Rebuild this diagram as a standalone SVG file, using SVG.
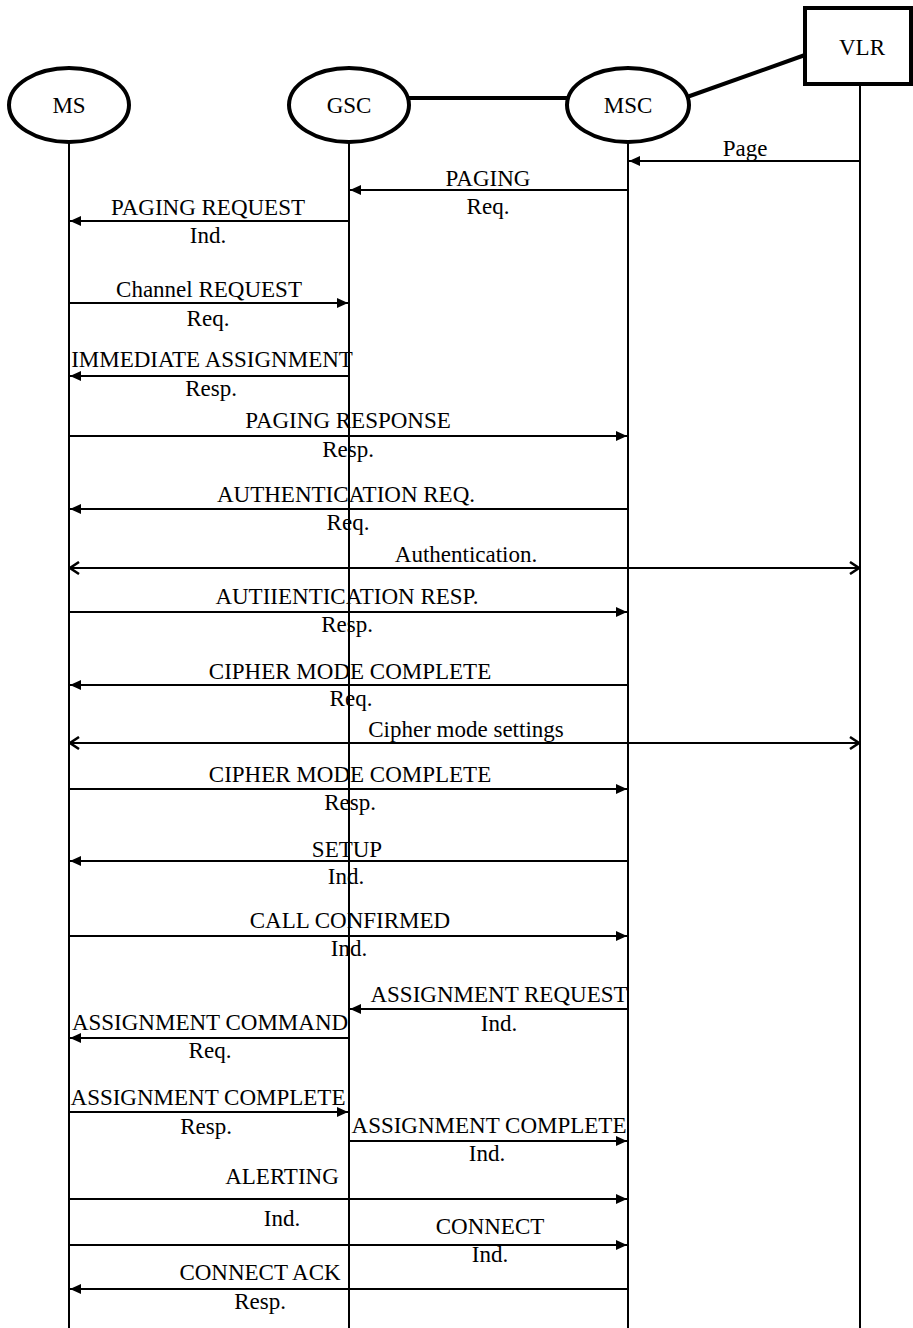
<svg xmlns="http://www.w3.org/2000/svg" width="913" height="1328" viewBox="0 0 913 1328">
<style>
text{font-family:"Liberation Serif","Times New Roman",serif;font-size:23px;fill:#000;text-anchor:middle}
.node{fill:#fff;stroke:#000;stroke-width:4}
.life{stroke:#000;stroke-width:2;fill:none}
.msg{stroke:#000;stroke-width:2;fill:none;marker-end:url(#ah)}
.bi{stroke:#000;stroke-width:2;fill:none;marker-end:url(#oe);marker-start:url(#os)}
.link{stroke:#000;stroke-width:4;fill:none}
</style>
<defs>
<marker id="ah" markerUnits="userSpaceOnUse" markerWidth="12" markerHeight="10" refX="11" refY="5" orient="auto">
<path d="M0,0 L11,5 L0,10 z" fill="#000"/>
</marker>
<marker id="oe" markerUnits="userSpaceOnUse" markerWidth="12" markerHeight="14" refX="10" refY="7" orient="auto">
<path d="M1,1 L10,7 L1,13" fill="none" stroke="#000" stroke-width="2.5"/>
</marker>
<marker id="os" markerUnits="userSpaceOnUse" markerWidth="12" markerHeight="14" refX="2" refY="7" orient="auto">
<path d="M11,1 L2,7 L11,13" fill="none" stroke="#000" stroke-width="2.5"/>
</marker>
</defs>
<g id="lifelines">
<line class="life" x1="69" y1="143" x2="69" y2="1328"/>
<line class="life" x1="349" y1="143" x2="349" y2="1328"/>
<line class="life" x1="628" y1="143" x2="628" y2="1328"/>
<line class="life" x1="860" y1="85" x2="860" y2="1328"/>
</g>
<g id="links">
<line class="link" x1="409" y1="98" x2="567" y2="98"/>
<line class="link" x1="687" y1="97" x2="805" y2="55"/>
</g>
<g id="MS"><ellipse class="node" cx="69" cy="105" rx="60" ry="37"/><text x="69" y="113">MS</text></g>
<g id="GSC"><ellipse class="node" cx="349" cy="105" rx="60" ry="37"/><text x="349" y="113">GSC</text></g>
<g id="MSC"><ellipse class="node" cx="628" cy="105" rx="61" ry="37"/><text x="628" y="113">MSC</text></g>
<g id="VLR"><rect class="node" x="805" y="8" width="106" height="76"/><text x="862" y="55">VLR</text></g>
<g id="connectors">
<line class="msg" x1="860" y1="161" x2="629" y2="161"/>
<line class="msg" x1="628" y1="190" x2="350" y2="190"/>
<line class="msg" x1="349" y1="221" x2="70" y2="221"/>
<line class="msg" x1="69" y1="303" x2="348" y2="303"/>
<line class="msg" x1="349" y1="376" x2="70" y2="376"/>
<line class="msg" x1="69" y1="436" x2="627" y2="436"/>
<line class="msg" x1="628" y1="509" x2="70" y2="509"/>
<line class="bi" x1="70" y1="568" x2="859" y2="568"/>
<line class="msg" x1="69" y1="612" x2="627" y2="612"/>
<line class="msg" x1="628" y1="685" x2="70" y2="685"/>
<line class="bi" x1="70" y1="743" x2="859" y2="743"/>
<line class="msg" x1="69" y1="789" x2="627" y2="789"/>
<line class="msg" x1="628" y1="861" x2="70" y2="861"/>
<line class="msg" x1="69" y1="936" x2="627" y2="936"/>
<line class="msg" x1="628" y1="1009" x2="350" y2="1009"/>
<line class="msg" x1="349" y1="1038" x2="70" y2="1038"/>
<line class="msg" x1="69" y1="1112" x2="348" y2="1112"/>
<line class="msg" x1="349" y1="1141" x2="627" y2="1141"/>
<line class="msg" x1="69" y1="1199" x2="627" y2="1199"/>
<line class="msg" x1="69" y1="1245" x2="627" y2="1245"/>
<line class="msg" x1="628" y1="1289" x2="70" y2="1289"/>
</g>
<g id="labels">
<text x="745" y="156">Page</text>
<text x="488" y="186">PAGING</text>
<text x="488" y="214">Req.</text>
<text x="208" y="215">PAGING REQUEST</text>
<text x="208" y="243">Ind.</text>
<text x="209" y="297">Channel REQUEST</text>
<text x="208" y="326">Req.</text>
<text x="212" y="367">IMMEDIATE ASSIGNMENT</text>
<text x="211" y="396">Resp.</text>
<text x="348" y="428">PAGING RESPONSE</text>
<text x="348" y="457">Resp.</text>
<text x="346" y="502">AUTHENTICATION REQ.</text>
<text x="348" y="530">Req.</text>
<text x="466" y="562">Authentication.</text>
<text x="347" y="604">AUTIIENTICATION RESP.</text>
<text x="347" y="632">Resp.</text>
<text x="350" y="679">CIPHER MODE COMPLETE</text>
<text x="351" y="706">Req.</text>
<text x="466" y="737">Cipher mode settings</text>
<text x="350" y="782">CIPHER MODE COMPLETE</text>
<text x="350" y="810">Resp.</text>
<text x="347" y="857">SETUP</text>
<text x="346" y="884">Ind.</text>
<text x="350" y="928">CALL CONFIRMED</text>
<text x="349" y="956">Ind.</text>
<text x="499" y="1002">ASSIGNMENT REQUEST</text>
<text x="499" y="1031">Ind.</text>
<text x="210" y="1030">ASSIGNMENT COMMAND</text>
<text x="210" y="1058">Req.</text>
<text x="208" y="1105">ASSIGNMENT COMPLETE</text>
<text x="206" y="1134">Resp.</text>
<text x="489" y="1133">ASSIGNMENT COMPLETE</text>
<text x="487" y="1161">Ind.</text>
<text x="282" y="1184">ALERTING</text>
<text x="282" y="1226">Ind.</text>
<text x="490" y="1234">CONNECT</text>
<text x="490" y="1262">Ind.</text>
<text x="260" y="1280">CONNECT ACK</text>
<text x="260" y="1309">Resp.</text>
</g>
</svg>
